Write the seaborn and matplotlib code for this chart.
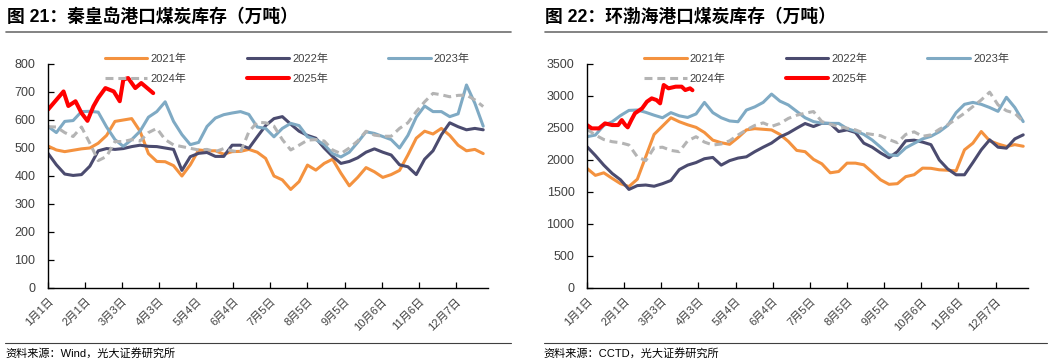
import numpy as np
import pandas as pd
import matplotlib.pyplot as plt
import seaborn as sns
from matplotlib.lines import Line2D

sns.set_theme(style="ticks")
plt.rcParams['font.family'] = ['Liberation Sans', 'Noto Sans CJK SC']
plt.rcParams['axes.unicode_minus'] = False

# weekly sample positions (day index on a 366-day axis)
days = list(range(0, 365, 7))
tick_days = [0, 31, 62, 93, 124, 155, 186, 217, 248, 279, 310, 341]
tick_labels = ['1月1日', '2月1日', '3月3日', '4月3日', '5月4日', '6月4日',
               '7月5日', '8月5日', '9月5日', '10月6日', '11月6日', '12月7日']
years = ['2021年', '2022年', '2023年', '2024年', '2025年']

# 图21 秦皇岛港口煤炭库存（万吨）
qhd_2021 = [507, 493, 487, 492, 497, 500, 517, 545, 595, 600,
            605, 560, 480, 452, 451, 437, 400, 440, 493, 490,
            490, 478, 487, 488, 495, 485, 463, 400, 386, 352,
            380, 439, 421, 445, 460, 410, 365, 395, 430, 415,
            395, 405, 420, 475, 535, 560, 550, 570, 545, 510,
            490, 495, 480]
qhd_2022 = [481, 440, 407, 402, 405, 435, 490, 498, 495, 498,
            505, 510, 506, 505, 500, 495, 420, 469, 481, 484,
            470, 470, 510, 510, 499, 540, 580, 605, 612, 585,
            560, 545, 535, 500, 470, 445, 452, 465, 485, 497,
            485, 475, 440, 433, 405, 460, 490, 547, 590, 576,
            565, 570, 565]
qhd_2023 = [577, 555, 595, 598, 630, 631, 628, 575, 530, 506,
            530, 560, 610, 630, 665, 595, 548, 512, 520, 577,
            607, 619, 625, 630, 620, 575, 570, 540, 570, 588,
            580, 540, 530, 512, 480, 468, 485, 520, 558, 552,
            541, 530, 500, 545, 610, 650, 630, 630, 612, 622,
            725, 660, 578]
qhd_2024 = [576, 575, 555, 541, 575, 517, 455, 470, 523, 523,
            530, 525, 555, 570, 530, 511, 505, 499, 493, 495,
            487, 498, 490, 485, 558, 592, 590, 578, 530, 493,
            510, 528, 530, 525, 493, 480, 500, 525, 560, 546,
            542, 542, 570, 590, 630, 665, 695, 690, 683, 688,
            689, 672, 648]
qhd_2025_days = [0, 7, 13, 17, 23, 28, 33, 38, 42, 48, 55, 60, 63, 67, 73, 78, 83, 88]
qhd_2025 = [637, 672, 702, 650, 667, 625, 597, 649, 679, 714, 702, 667, 744, 750, 714, 732, 714, 696]

# 图22 环渤海港口煤炭库存（万吨）
bh_2021 = [1869, 1760, 1800, 1713, 1630, 1585, 1700, 2050, 2400, 2530,
           2660, 2598, 2550, 2510, 2430, 2310, 2270, 2245, 2350, 2470,
           2490, 2480, 2470, 2400, 2290, 2150, 2130, 2010, 1940, 1800,
           1820, 1951, 1951, 1925, 1810, 1690, 1620, 1630, 1740, 1770,
           1873, 1870, 1847, 1840, 1830, 2159, 2263, 2445, 2300, 2250,
           2211, 2240, 2215]
bh_2022 = [2208, 2070, 1920, 1790, 1690, 1540, 1600, 1609, 1590, 1630,
           1680, 1850, 1920, 1960, 2020, 2040, 1920, 1990, 2030, 2050,
           2130, 2200, 2265, 2360, 2420, 2497, 2570, 2523, 2575, 2570,
           2445, 2471, 2430, 2263, 2200, 2110, 2035, 2130, 2300, 2310,
           2280, 2240, 2000, 1860, 1769, 1769, 1960, 2159, 2315, 2200,
           2185, 2330, 2393]
bh_2023 = [2364, 2390, 2540, 2598, 2695, 2775, 2781, 2745, 2700, 2660,
           2740, 2690, 2665, 2720, 2900, 2740, 2660, 2610, 2598, 2780,
           2830, 2900, 3030, 2920, 2860, 2760, 2660, 2600, 2575, 2572,
           2572, 2490, 2450, 2400, 2312, 2200, 2080, 2070, 2190, 2260,
           2330, 2370, 2442, 2540, 2740, 2870, 2900, 2870, 2820, 2760,
           2980, 2820, 2600]
bh_2024 = [2480, 2390, 2320, 2286, 2270, 2234, 2050, 1990, 2190, 2200,
           2150, 2130, 2300, 2364, 2280, 2234, 2250, 2300, 2390, 2470,
           2540, 2580, 2525, 2570, 2650, 2700, 2731, 2757, 2600, 2560,
           2520, 2497, 2471, 2419, 2400, 2380, 2320, 2270, 2400, 2440,
           2370, 2393, 2480, 2550, 2640, 2731, 2835, 2939, 3060, 2861,
           2770, 2731, 2601]
bh_2025_days = [0, 4, 10, 15, 21, 26, 29, 32, 34, 37, 40, 46, 50, 54, 58, 61, 64, 68, 74, 79, 82, 86, 88]
bh_2025 = [2546, 2494, 2494, 2572, 2546, 2546, 2624, 2546, 2510, 2624, 2729, 2807,
           2911, 2963, 2937, 2885, 3172, 3120, 3146, 3146, 3093, 3120, 3090]

colors = ['#F4923F', '#4B4B6F', '#7FAAC4', '#B4B4B4', '#FF0000']
dash = (0, (2.6, 1.6))
text_c = '#404040'

fig = plt.figure(figsize=(10.55, 3.64), dpi=100)
ax1 = fig.add_axes([48 / 1055, 76 / 364, 440 / 1055, 224 / 364])
ax2 = fig.add_axes([587 / 1055, 76 / 364, 441 / 1055, 224 / 364])


def draw(ax, s21, s22, s23, s24, d25, s25, ymax, ystep):
    for s, c in zip([s21, s22, s23], colors[:3]):
        sns.lineplot(x=days, y=s, color=c, lw=2.2, ax=ax)
    sns.lineplot(x=days, y=s24, color=colors[3], lw=2.2, linestyle=dash, ax=ax)
    sns.lineplot(x=d25, y=s25, color=colors[4], lw=2.9, ax=ax)
    ax.set_xlim(0, 368)
    ax.set_ylim(0, ymax)
    ax.set_yticks(np.arange(0, ymax + 1, ystep))
    ax.set_xticks(tick_days)
    ax.set_xticklabels(tick_labels, rotation=45, ha='right', rotation_mode='anchor')
    ax.set_xlabel('')
    ax.set_ylabel('')
    for side in ['top', 'right']:
        ax.spines[side].set_visible(False)
    for side in ['left', 'bottom']:
        ax.spines[side].set_color('black')
        ax.spines[side].set_linewidth(1.0)
    ax.tick_params(axis='both', direction='in', length=4, width=0.9, color='black',
                   labelcolor=text_c)
    ax.tick_params(axis='y', labelsize=9, pad=9)
    ax.tick_params(axis='x', labelsize=8, pad=6)
    handles = [Line2D([], [], color=c, lw=2.9 if y == '2025年' else 2.2,
                      linestyle=dash if y == '2024年' else '-')
               for c, y in zip(colors, years)]
    order = [0, 3, 1, 4, 2]
    ax.legend([handles[i] for i in order], [years[i] for i in order],
              ncol=3, loc='upper left', bbox_to_anchor=(0.13, 1.045),
              frameon=False, fontsize=8, handlelength=3.8, handletextpad=0.3,
              columnspacing=5.4, labelspacing=0.8, borderpad=0, borderaxespad=0,
              labelcolor=text_c)


draw(ax1, qhd_2021, qhd_2022, qhd_2023, qhd_2024, qhd_2025_days, qhd_2025, 800, 100)
draw(ax2, bh_2021, bh_2022, bh_2023, bh_2024, bh_2025_days, bh_2025, 3500, 500)

# titles, rules and source notes
fig.text(7 / 1055, 1 - 17 / 364, '图 21：秦皇岛港口煤炭库存（万吨）', fontsize=12.8,
         fontweight='bold', va='center', ha='left', color='black')
fig.text(545 / 1055, 1 - 17 / 364, '图 22：环渤海港口煤炭库存（万吨）', fontsize=12.8,
         fontweight='bold', va='center', ha='left', color='black')
for x0, x1 in [(6, 511), (545, 1047)]:
    fig.add_artist(Line2D([x0 / 1055, x1 / 1055], [1 - 32 / 364] * 2, color='#6E6E6E', lw=1.2))
    fig.add_artist(Line2D([x0 / 1055 - 0.001, x1 / 1055], [1 - 343 / 364] * 2, color='#404040', lw=0.8))
fig.text(5 / 1055, 1 - 353 / 364, '资料来源：Wind，光大证券研究所', fontsize=8,
         va='center', ha='left', color='black')
fig.text(543 / 1055, 1 - 353 / 364, '资料来源：CCTD，光大证券研究所', fontsize=8,
         va='center', ha='left', color='black')

fig.savefig('out.png', dpi=100)
